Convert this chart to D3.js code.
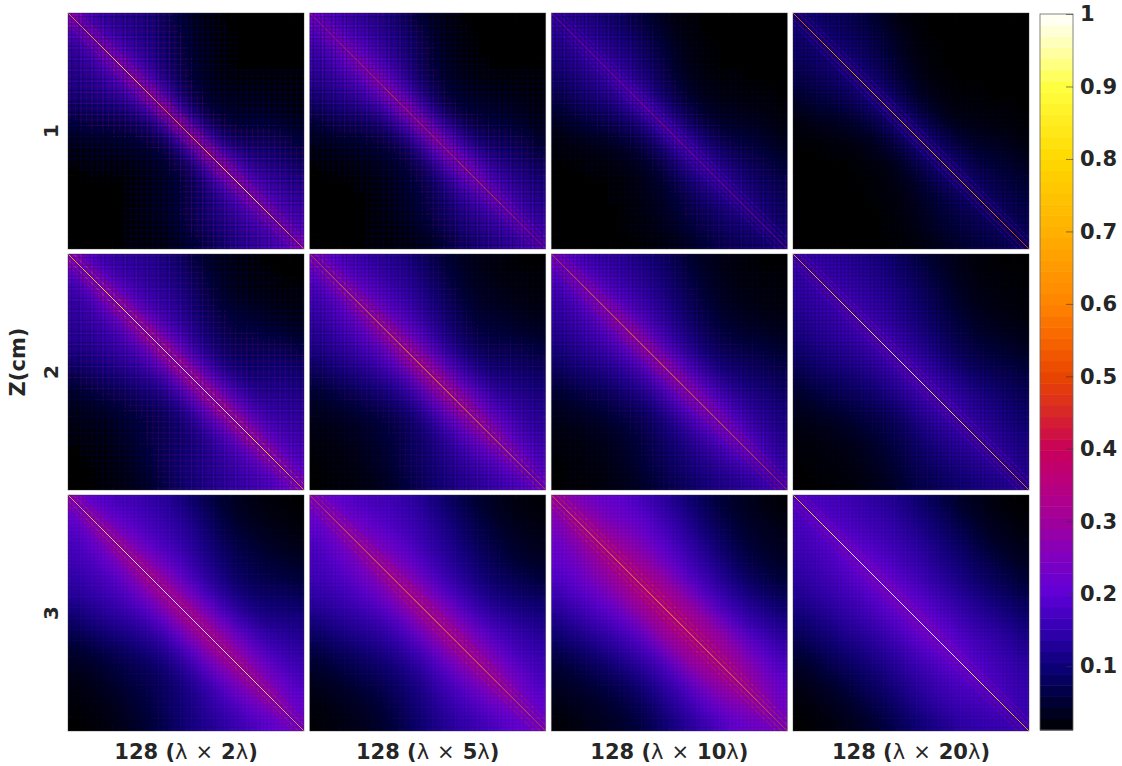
<!DOCTYPE html>
<html><head><meta charset="utf-8">
<style>html,body{margin:0;padding:0;background:#fff}svg{display:block}text{font-family:"DejaVu Sans",sans-serif;fill:#262626}</style>
<script src="https://cdn.jsdelivr.net/npm/d3@7"></script></head><body><div id="c"></div>
<script>
// Coarse 16x16 readings of each symmetric matrix: rows of the upper triangle, starting on the diagonal.
const z1w2=[[.26,.19,.15,.13,.12,.10,.07,.045,.025,.015,.01,.01,.01,.01,.01,.01],[.26,.20,.16,.13,.11,.08,.05,.03,.018,.012,.01,.01,.01,.01,.01],[.27,.21,.16,.13,.09,.055,.03,.02,.012,.01,.01,.01,.01,.01],[.28,.21,.15,.10,.06,.035,.02,.012,.01,.01,.01,.01,.01],[.29,.21,.13,.075,.04,.025,.015,.012,.012,.012,.012,.012],[.30,.20,.10,.055,.03,.022,.018,.018,.018,.015,.012],[.31,.18,.085,.045,.03,.025,.025,.025,.02,.015],[.31,.18,.09,.05,.04,.04,.04,.035,.025],[.31,.19,.10,.07,.065,.065,.055,.04],[.31,.20,.13,.10,.095,.08,.06],[.30,.21,.15,.125,.11,.085],[.29,.21,.165,.14,.12],[.28,.21,.17,.145],[.27,.20,.17],[.26,.20],[.25]];
const z1w5=[[.22,.20,.17,.15,.13,.10,.07,.04,.025,.015,.01,.01,.01,.01,.01,.01],[.24,.21,.18,.15,.12,.09,.055,.03,.018,.012,.01,.01,.01,.01,.01],[.25,.22,.18,.14,.10,.065,.035,.02,.013,.01,.01,.01,.01,.01],[.26,.22,.17,.12,.07,.04,.025,.015,.012,.01,.01,.01,.01],[.27,.22,.15,.09,.05,.03,.02,.015,.012,.012,.012,.012],[.27,.21,.13,.07,.04,.03,.022,.02,.018,.015,.012],[.28,.20,.115,.06,.04,.035,.03,.025,.02,.015],[.28,.20,.12,.07,.05,.045,.04,.03,.02],[.28,.21,.13,.085,.07,.06,.05,.03],[.27,.21,.145,.105,.09,.07,.05],[.26,.21,.155,.12,.10,.075],[.25,.20,.155,.125,.10],[.24,.19,.15,.12],[.22,.18,.14],[.21,.17],[.18]];
const z1w10=[[.14,.13,.12,.10,.08,.06,.04,.025,.015,.012,.01,.01,.01,.01,.01,.01],[.16,.14,.12,.10,.08,.055,.035,.02,.013,.01,.01,.01,.01,.01,.01],[.17,.15,.12,.10,.07,.045,.025,.015,.012,.01,.01,.01,.01,.01],[.18,.15,.12,.085,.055,.03,.018,.012,.01,.01,.01,.01,.01],[.19,.15,.11,.07,.04,.022,.015,.012,.012,.01,.01,.01],[.20,.15,.09,.055,.03,.02,.015,.014,.012,.012,.01],[.20,.14,.08,.05,.03,.022,.02,.017,.015,.012],[.19,.14,.08,.05,.035,.03,.025,.02,.015],[.19,.14,.09,.06,.045,.04,.03,.02],[.18,.14,.095,.07,.055,.045,.03],[.17,.135,.10,.075,.06,.045],[.16,.125,.095,.075,.06],[.145,.115,.09,.07],[.13,.10,.08],[.12,.09],[.10]];
const z1w20=[[.10,.09,.08,.07,.055,.04,.025,.015,.012,.01,.01,.01,.01,.01,.01,.01],[.11,.09,.08,.065,.05,.035,.02,.013,.01,.01,.01,.01,.01,.01,.01],[.11,.095,.08,.06,.04,.025,.015,.012,.01,.01,.01,.01,.01,.01],[.12,.095,.075,.05,.03,.018,.012,.01,.01,.01,.01,.01,.01],[.12,.095,.065,.04,.022,.015,.012,.01,.01,.01,.01,.01],[.125,.09,.055,.03,.02,.014,.012,.012,.01,.01,.01],[.125,.085,.05,.03,.018,.015,.014,.012,.012,.01],[.125,.085,.05,.03,.022,.018,.016,.014,.012],[.125,.085,.055,.035,.028,.024,.02,.015],[.12,.085,.06,.042,.035,.03,.02],[.115,.085,.06,.048,.04,.03],[.11,.08,.062,.05,.04],[.10,.075,.06,.05],[.095,.07,.055],[.085,.065],[.075]];
const z2w2=[[.27,.21,.17,.15,.14,.13,.11,.08,.05,.03,.02,.015,.012,.01,.01,.01],[.28,.22,.18,.16,.14,.12,.095,.065,.04,.025,.018,.014,.012,.01,.01],[.29,.23,.19,.16,.14,.11,.08,.05,.03,.02,.016,.014,.012,.012],[.30,.24,.19,.16,.13,.09,.06,.04,.03,.025,.02,.016,.014],[.31,.25,.19,.15,.11,.075,.05,.04,.035,.03,.025,.02],[.32,.25,.19,.13,.09,.065,.05,.05,.045,.04,.03],[.33,.25,.17,.115,.08,.065,.065,.065,.06,.05],[.33,.25,.17,.11,.085,.08,.085,.085,.075],[.33,.25,.175,.125,.10,.10,.105,.095],[.33,.25,.185,.14,.125,.125,.115],[.33,.25,.19,.16,.145,.135],[.32,.25,.195,.17,.155],[.31,.24,.20,.175],[.30,.23,.195],[.28,.22],[.26]];
const z2w5=[[.25,.22,.19,.17,.15,.13,.11,.08,.055,.035,.025,.018,.014,.012,.01,.01],[.27,.23,.20,.18,.15,.13,.10,.07,.045,.03,.02,.016,.013,.012,.012],[.28,.24,.21,.18,.15,.12,.085,.055,.035,.025,.02,.016,.014,.012],[.29,.25,.21,.18,.14,.10,.07,.045,.03,.025,.02,.017,.015],[.30,.26,.21,.17,.125,.085,.055,.04,.035,.03,.025,.02],[.31,.26,.21,.15,.105,.07,.05,.045,.04,.035,.03],[.32,.27,.20,.14,.095,.07,.06,.06,.055,.045],[.33,.27,.20,.14,.10,.085,.08,.075,.065],[.33,.27,.205,.15,.115,.105,.095,.085],[.32,.27,.21,.16,.135,.12,.105],[.31,.26,.21,.17,.145,.125],[.30,.255,.21,.17,.145],[.29,.24,.20,.165],[.27,.23,.19],[.25,.21],[.23]];
const z2w10=[[.24,.21,.18,.16,.145,.125,.10,.08,.055,.035,.025,.018,.014,.012,.01,.01],[.26,.22,.19,.165,.145,.12,.095,.07,.045,.03,.02,.016,.013,.012,.012],[.27,.23,.195,.17,.14,.11,.08,.055,.035,.025,.018,.016,.014,.012],[.28,.24,.20,.165,.13,.095,.065,.045,.03,.022,.018,.016,.014],[.29,.245,.20,.155,.115,.08,.055,.04,.03,.025,.02,.018],[.30,.245,.19,.14,.10,.07,.05,.04,.035,.03,.025],[.30,.24,.18,.13,.09,.07,.055,.05,.045,.035],[.30,.24,.18,.13,.095,.08,.07,.06,.05],[.29,.24,.185,.135,.105,.09,.08,.065],[.28,.235,.185,.14,.115,.10,.08],[.27,.23,.18,.145,.12,.10],[.26,.22,.175,.14,.115],[.25,.21,.165,.13],[.23,.19,.15],[.21,.17],[.19]];
const z2w20=[[.17,.16,.15,.14,.125,.11,.09,.07,.05,.035,.025,.018,.014,.012,.01,.01],[.18,.165,.155,.14,.125,.105,.085,.065,.045,.03,.02,.016,.013,.012,.011],[.185,.17,.155,.14,.12,.10,.075,.055,.038,.025,.018,.015,.013,.012],[.19,.175,.155,.135,.11,.085,.065,.045,.03,.022,.017,.015,.013],[.195,.175,.15,.125,.10,.075,.055,.04,.028,.022,.018,.015],[.20,.175,.145,.115,.09,.065,.05,.036,.03,.025,.02],[.20,.17,.14,.11,.08,.06,.05,.04,.035,.027],[.20,.17,.14,.105,.08,.065,.055,.048,.04],[.20,.17,.14,.11,.09,.075,.065,.055],[.195,.165,.14,.115,.095,.08,.065],[.19,.16,.135,.115,.095,.08],[.18,.155,.13,.11,.09],[.17,.15,.125,.105],[.16,.14,.115],[.15,.125],[.135]];
const z3w2=[[.27,.23,.21,.19,.18,.16,.14,.11,.08,.055,.035,.025,.018,.014,.012,.01],[.29,.25,.22,.20,.18,.16,.13,.10,.07,.045,.03,.022,.017,.014,.012],[.30,.26,.23,.20,.18,.15,.12,.085,.055,.04,.03,.022,.018,.015],[.31,.27,.235,.20,.17,.135,.10,.07,.05,.04,.03,.024,.02],[.32,.28,.24,.20,.155,.115,.085,.06,.05,.04,.035,.028],[.33,.285,.235,.185,.14,.10,.075,.06,.05,.045,.04],[.33,.285,.23,.175,.13,.095,.075,.07,.065,.055],[.34,.29,.23,.175,.13,.10,.09,.085,.08],[.34,.29,.235,.18,.14,.115,.11,.105],[.33,.29,.24,.19,.155,.14,.125],[.33,.285,.24,.195,.17,.15],[.32,.28,.24,.20,.175],[.31,.27,.235,.20],[.30,.26,.22],[.28,.24],[.25]];
const z3w5=[[.26,.24,.22,.20,.19,.18,.16,.135,.10,.075,.05,.035,.025,.018,.014,.012],[.28,.25,.23,.21,.195,.175,.15,.12,.09,.065,.045,.03,.022,.017,.014],[.29,.26,.24,.215,.19,.165,.135,.105,.075,.055,.04,.028,.022,.018],[.30,.27,.245,.215,.185,.15,.12,.09,.065,.05,.035,.028,.022],[.31,.28,.245,.21,.17,.135,.105,.08,.06,.045,.035,.03],[.32,.285,.245,.20,.16,.125,.095,.075,.06,.05,.04],[.33,.29,.24,.195,.155,.12,.095,.08,.07,.06],[.33,.29,.245,.195,.155,.125,.105,.095,.085],[.33,.29,.245,.20,.165,.14,.125,.11],[.33,.29,.245,.205,.175,.155,.135],[.32,.285,.245,.205,.18,.16],[.315,.28,.24,.205,.18],[.305,.27,.235,.20],[.29,.25,.22],[.27,.235],[.25]];
const z3w10=[[.30,.28,.26,.24,.23,.21,.18,.15,.115,.085,.06,.04,.03,.022,.016,.012],[.32,.30,.27,.25,.23,.21,.175,.14,.105,.075,.05,.035,.026,.02,.015],[.34,.31,.28,.26,.23,.20,.165,.125,.09,.065,.045,.032,.025,.02],[.35,.32,.29,.26,.225,.19,.15,.115,.08,.055,.04,.03,.024],[.36,.33,.295,.255,.215,.175,.135,.10,.07,.05,.038,.03],[.37,.34,.30,.25,.205,.165,.125,.09,.065,.05,.04],[.38,.345,.30,.25,.20,.155,.12,.09,.07,.055],[.38,.345,.30,.25,.195,.155,.125,.10,.08],[.38,.345,.30,.25,.20,.16,.135,.11],[.37,.34,.30,.25,.205,.17,.14],[.36,.33,.29,.245,.21,.175],[.35,.32,.28,.24,.205],[.33,.30,.265,.23],[.31,.28,.245],[.29,.255],[.26]];
const z3w20=[[.21,.20,.19,.18,.165,.15,.13,.11,.085,.065,.045,.03,.022,.016,.012,.01],[.22,.205,.195,.18,.165,.15,.125,.10,.08,.06,.04,.028,.02,.015,.012],[.23,.21,.20,.185,.165,.145,.12,.095,.075,.055,.038,.026,.02,.015],[.24,.22,.205,.185,.165,.14,.115,.09,.07,.05,.035,.026,.02],[.24,.225,.205,.18,.16,.13,.105,.085,.065,.05,.035,.026],[.25,.23,.205,.18,.15,.125,.10,.08,.065,.05,.036],[.25,.23,.205,.175,.15,.12,.10,.08,.065,.05],[.25,.23,.205,.175,.15,.125,.105,.085,.07],[.25,.23,.205,.175,.15,.13,.11,.09],[.245,.225,.20,.175,.155,.135,.11],[.24,.22,.195,.175,.155,.13],[.23,.21,.19,.17,.15],[.22,.20,.18,.16],[.205,.19,.165],[.19,.17],[.17]];
// Correction of the eye-read matrix values above, found by comparing with the reference.
const readDomain=[.01,.02,.05,.1,.15,.2,.25,.3,.4], readRange=[.012,.03,.066,.11,.145,.178,.225,.285,.36];
// Main-diagonal readings, 16 stretches per panel.
const diagZ1=[[.6,.7,.75,.85,.8,.7,.6,.65,.7,.75,.85,.9,.9,.8,.7,.55],[.42,.42,.45,.45,.45,.5,.45,.45,.45,.45,.5,.5,.5,.45,.42,.4],[.3,.3,.3,.3,.32,.32,.35,.38,.35,.32,.3,.3,.3,.3,.28,.28],[.55,.6,.65,.65,.7,.7,.7,.7,.7,.7,.7,.65,.65,.6,.55,.5]];
const diagZ2=[[.7,.8,.85,.9,.95,.95,.95,1,1,1,.95,.95,.9,.85,.75,.6],[.5,.55,.6,.6,.65,.65,.7,.7,.7,.7,.65,.65,.6,.6,.55,.5],[.5,.55,.6,.6,.6,.65,.65,.65,.65,.6,.6,.6,.55,.55,.5,.45],[.65,.75,.8,.85,.9,.9,.95,.95,.95,.9,.9,.85,.8,.75,.7,.6]];
const diagZ3=[[.7,.8,.85,.9,.95,.95,1,1,1,.95,.95,.9,.9,.85,.75,.65],[.5,.55,.6,.6,.65,.65,.65,.7,.7,.65,.65,.65,.6,.55,.55,.5],[.55,.6,.65,.65,.7,.7,.7,.75,.75,.7,.7,.65,.65,.6,.55,.5],[.75,.85,.9,.95,1,1,1,1,1,1,1,.95,.9,.85,.8,.7]];
// First and second side-stripe readings per panel.
const stripeZ1=[[.38,.34],[.34,.32],[.22,.2],[.26,.18]],stripeZ2=[[.46,.4],[.44,.4],[.4,.38],[.32,.24]],stripeZ3=[[.44,.4],[.44,.42],[.48,.44],[.36,.3]];
const stripeOffsets=[3,6];
const matrices=[[z1w2,z1w5,z1w10,z1w20],[z2w2,z2w5,z2w10,z2w20],[z3w2,z3w5,z3w10,z3w20]];
const diagonals=[diagZ1,diagZ2,diagZ3], stripes=[stripeZ1,stripeZ2,stripeZ3];
const widths=["2","5","10","20"], zLabels=["1","2","3"];
const colorTicks=[.1,.2,.3,.4,.5,.6,.7,.8,.9,1];
const cmapV=[.012,.06,.1,.15,.2,.25,.3,.35,.4,.45,.5,.55,.6,.7,.8,.9,.95,1];
const cmapC=["#000000","#000040","#0c0078","#3200b0","#6000d8","#8000c0","#a0009c","#b80080","#c80058","#d82828","#e84400","#f86400","#ff8400","#ffb000","#ffd800","#ffff40","#ffffa8","#ffffff"];

const W=1122,H=766;
const color=d3.scaleLinear().domain(cmapV).range(cmapC).clamp(true);
const corrected=d3.scaleLinear().domain(readDomain).range(readRange).clamp(true);
const svg=d3.select("#c").append("svg").attr("width",W).attr("height",H);
const defs=svg.append("defs");
defs.append("filter").attr("id","soft").attr("x","-10%").attr("y","-10%").attr("width","120%").attr("height","120%")
  .attr("color-interpolation-filters","sRGB").append("feGaussianBlur").attr("stdDeviation",6);
const xOuter=d3.scalePoint().domain(widths).range([68,793]);
const yOuter=d3.scalePoint().domain(zLabels).range([13,495]);
const side=236, idx=d3.range(16);
const band=d3.scaleBand().domain(idx).range([0,side]);
const cont=d3.scaleLinear().domain([0,128]).range([0,side]);
const meshOpacity=[.3,.22,.1], dodgeOpacity=[[.12,.1,.07,.04],[.1,.07,.06,.04],[.04,.04,.04,.03]];
zLabels.forEach((z,r)=>widths.forEach((w,c)=>{
  defs.append("clipPath").attr("id",`cp${r}${c}`).append("rect").attr("width",side).attr("height",side);
  const g=svg.append("g").attr("transform",`translate(${xOuter(w)},${yOuter(z)})`).attr("clip-path",`url(#cp${r}${c})`).style("isolation","isolate");
  const m=matrices[r][c];
  const cells=[];
  idx.forEach(i=>idx.forEach(j=>cells.push({i,j,v:m[Math.min(i,j)][Math.abs(i-j)]})));
  [g.append("g"),g.append("g").attr("filter","url(#soft)")].forEach(l=>{
    l.selectAll("rect").data(cells).join("rect")
     .attr("x",d=>band(d.j)).attr("y",d=>band(d.i))
     .attr("width",band.bandwidth()+.5).attr("height",band.bandwidth()+.5)
     .attr("fill",d=>color(corrected(d.v)));
  });
  // side stripes
  stripeOffsets.forEach((o,k)=>[o,-o].forEach(off=>{
    g.append("line").attr("x1",cont(Math.max(0,off))).attr("y1",cont(Math.max(0,-off)))
     .attr("x2",cont(Math.min(128,128+off))).attr("y2",cont(Math.min(128,128-off)))
     .attr("stroke",color(stripes[r][c][k])).attr("stroke-width",1).attr("stroke-opacity",.5);
  }));
  // element lattice of the 128-element array
  const mesh=g.append("g").attr("stroke","#000").attr("stroke-width",1).attr("stroke-opacity",meshOpacity[r]);
  d3.range(0,128,2).forEach(t=>{
    mesh.append("line").attr("x1",cont(t)).attr("x2",cont(t)).attr("y1",0).attr("y2",side);
    mesh.append("line").attr("y1",cont(t)).attr("y2",cont(t)).attr("x1",0).attr("x2",side);
  });
  const glow=g.append("g").attr("stroke","#fff").attr("stroke-width",1).attr("stroke-opacity",dodgeOpacity[r][c]).style("mix-blend-mode","color-dodge");
  d3.range(1,128,3).forEach(t=>{
    glow.append("line").attr("x1",cont(t)).attr("x2",cont(t)).attr("y1",0).attr("y2",side);
    glow.append("line").attr("y1",cont(t)).attr("y2",cont(t)).attr("x1",0).attr("x2",side);
  });
  // main diagonal
  diagonals[r][c].forEach((v,i)=>{
    const a=i*8,b=(i+1)*8;
    g.append("line").attr("x1",cont(a)).attr("y1",cont(a)).attr("x2",cont(b)).attr("y2",cont(b))
     .attr("stroke",color(v)).attr("stroke-width",.85);
  });
  svg.append("rect").attr("x",xOuter(w)).attr("y",yOuter(z)).attr("width",side).attr("height",side)
     .attr("fill","none").attr("stroke","#333").attr("stroke-opacity",.5).attr("stroke-width",.8);
}));
// column labels
const lab=svg.append("g");
widths.forEach(w=>{
  const t=lab.append("text").attr("x",xOuter(w)+118).attr("y",759).attr("text-anchor","middle").attr("font-size",21).attr("font-weight","bold");
  t.append("tspan").text("128 (");
  t.append("tspan").attr("font-weight","normal").text("λ");
  t.append("tspan").attr("font-weight","normal").attr("dx",8).text("×");
  t.append("tspan").attr("dx",8).text(w);
  t.append("tspan").attr("font-weight","normal").text("λ");
  t.append("tspan").text(")");
});
zLabels.forEach(z=>{
  const y=yOuter(z)+118;
  lab.append("text").attr("transform",`translate(58,${y}) rotate(-90)`).attr("text-anchor","middle").attr("font-size",20).attr("font-weight","bold").text(z);
});
lab.append("text").attr("transform","translate(25,362) rotate(-90)").attr("text-anchor","middle").attr("font-size",21).attr("font-weight","bold").text("Z(cm)");
// colour bar
const cbY=d3.scaleLinear().domain([.012,1]).range([730,14]);
const levels=d3.range(64);
const levelV=d3.scaleLinear().domain([0,64]).range([.012,1]);
svg.append("g").selectAll("rect").data(levels).join("rect")
  .attr("x",1040).attr("width",33)
  .attr("y",d=>cbY(levelV(d+1))).attr("height",d=>cbY(levelV(d))-cbY(levelV(d+1))+.5)
  .attr("fill",d=>color(levelV(d+.5)));
svg.append("rect").attr("x",1040).attr("y",14).attr("width",33).attr("height",716).attr("fill","none").attr("stroke","#666").attr("stroke-width",.8);
const axis=d3.axisRight(cbY).tickValues(colorTicks).tickFormat(d3.format("~g")).tickSize(0).tickPadding(7);
const ag=svg.append("g").attr("transform","translate(1073,0)").call(axis);
ag.select(".domain").remove();
ag.selectAll("text").attr("font-size",21).attr("font-weight","bold").style("font-family",'"DejaVu Sans",sans-serif').attr("fill","#262626");
ag.selectAll("line").attr("x1",-7).attr("x2",0).attr("stroke","#333").attr("stroke-opacity",.6);
</script></body></html>
